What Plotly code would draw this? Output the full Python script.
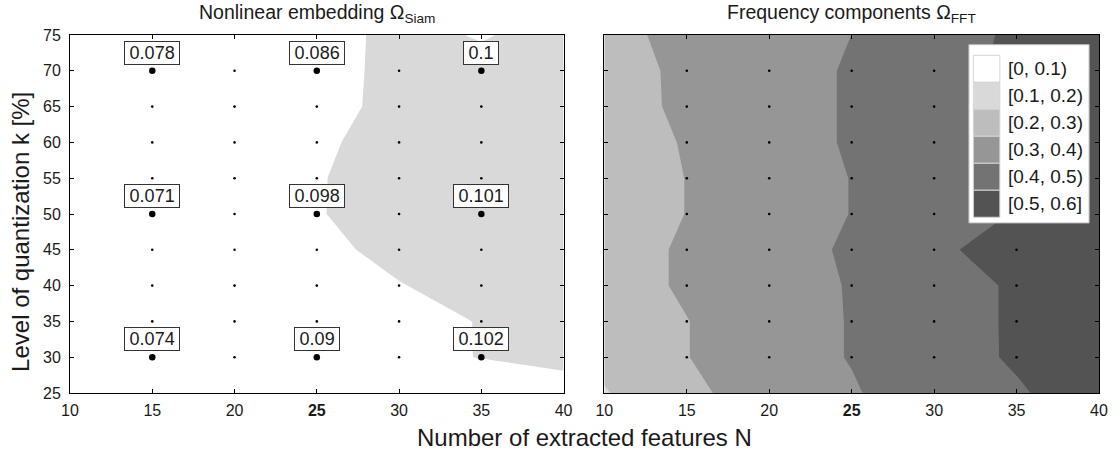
import plotly.graph_objects as go

# ---------------- data ----------------
grid_x = [10, 15, 20, 25, 30, 35, 40]
grid_y = [25, 30, 35, 40, 45, 50, 55, 60, 65, 70, 75]

# estimated grid values, rows follow grid_y, columns follow grid_x
z_siam = [
    [0.068, 0.070, 0.074, 0.080, 0.070, 0.050, 0.087],
    [0.070, 0.074, 0.082, 0.090, 0.082, 0.102, 0.108],
    [0.069, 0.073, 0.080, 0.088, 0.076, 0.103, 0.110],
    [0.068, 0.072, 0.080, 0.092, 0.099, 0.109, 0.112],
    [0.067, 0.071, 0.082, 0.094, 0.1065, 0.108, 0.113],
    [0.066, 0.071, 0.085, 0.098, 0.1147, 0.101, 0.112],
    [0.067, 0.072, 0.086, 0.097, 0.120, 0.104, 0.112],
    [0.068, 0.074, 0.085, 0.094, 0.114, 0.104, 0.111],
    [0.069, 0.076, 0.084, 0.090, 0.1081, 0.103, 0.110],
    [0.070, 0.078, 0.083, 0.086, 0.1101, 0.108, 0.110],
    [0.071, 0.079, 0.084, 0.088, 0.108, 0.098, 0.110],
]
z_fft = [
    [0.194, 0.277, 0.350, 0.390, 0.466, 0.490, 0.549],
    [0.224, 0.298, 0.352, 0.405, 0.4605, 0.5105, 0.560],
    [0.250, 0.298, 0.352, 0.405, 0.461, 0.511, 0.560],
    [0.261, 0.311, 0.356, 0.406, 0.461, 0.511, 0.560],
    [0.261, 0.311, 0.362, 0.412, 0.4845, 0.5345, 0.565],
    [0.252, 0.3015, 0.352, 0.402, 0.455, 0.505, 0.550],
    [0.252, 0.3015, 0.352, 0.402, 0.455, 0.505, 0.550],
    [0.256, 0.306, 0.359, 0.409, 0.460, 0.510, 0.555],
    [0.265, 0.315, 0.359, 0.409, 0.465, 0.515, 0.560],
    [0.266, 0.316, 0.359, 0.409, 0.468, 0.518, 0.560],
    [0.274, 0.324, 0.350, 0.4003, 0.463, 0.513, 0.560],
]

# measurement grid (small dots)
dot_x = [15, 20, 25, 30, 35]
dot_y = [30, 35, 40, 45, 50, 55, 60, 65, 70]

# labelled measurements (left panel)
lab_x = [15, 25, 35]
lab_y = [30, 50, 70]
lab_vals = [
    [0.074, 0.09, 0.102],
    [0.071, 0.098, 0.101],
    [0.078, 0.086, 0.1],
]

level_lows = [0.0, 0.1, 0.2, 0.3, 0.4, 0.5]
level_labels = ["[0, 0.1)", "[0.1, 0.2)", "[0.2, 0.3)", "[0.3, 0.4)", "[0.4, 0.5)", "[0.5, 0.6]"]
level_colors = ["#ffffff", "#d9d9d9", "#bdbdbd", "#969696", "#737373", "#535353"]

x_ticks = [10, 15, 20, 25, 30, 35, 40]
x_ticktext = ["10", "15", "20", "<b>25</b>", "30", "35", "40"]
y_ticks = [25, 30, 35, 40, 45, 50, 55, 60, 65, 70, 75]

FONT = "Liberation Sans, Arial, Helvetica, sans-serif"
INK = "#1a1a1a"
THIN = "\u2009"

fig = go.Figure()

# filled bands: each band shades z >= its lower bound, layered bottom-up
for z, xa, ya in [(z_siam, "x", "y"), (z_fft, "x2", "y2")]:
    for low, col in zip(level_lows, level_colors):
        if low == 0.0:
            continue  # white base = plot background
        fig.add_trace(go.Contour(
            x=grid_x, y=grid_y, z=z,
            contours=dict(type="constraint", operation="<", value=low, showlines=False),
            fillcolor=col,
            line=dict(width=0, smoothing=0, color=col),
            showscale=False, hoverinfo="skip",
            xaxis=xa, yaxis=ya,
        ))

dxs = [x for y in dot_y for x in dot_x]
dys = [y for y in dot_y for x in dot_x]
for xa, ya in [("x", "y"), ("x2", "y2")]:
    fig.add_trace(go.Scatter(
        x=dxs, y=dys, mode="markers",
        marker=dict(size=2.6, color="black"),
        xaxis=xa, yaxis=ya, showlegend=False, hoverinfo="skip",
    ))

lxs = [x for y in lab_y for x in lab_x]
lys = [y for y in lab_y for x in lab_x]
lvs = [v for row in lab_vals for v in row]
fig.add_trace(go.Scatter(
    x=lxs, y=lys, mode="markers",
    marker=dict(size=6.5, color="black"),
    xaxis="x", yaxis="y", showlegend=False, hoverinfo="skip",
))

annotations = []
for x, y, v in zip(lxs, lys, lvs):
    annotations.append(dict(
        x=x, y=y, xref="x", yref="y", text=THIN + f"{v:g}" + THIN, showarrow=False,
        yshift=18, yanchor="middle", xanchor="center",
        font=dict(family=FONT, size=18, color=INK),
        bgcolor="white", bordercolor="#333333", borderwidth=1, borderpad=1,
    ))

# panel titles
annotations.append(dict(x=0.5, y=1.0, xref="x domain", yref="paper", yshift=22,
                        text="Nonlinear embedding Ω<sub>Siam</sub>", showarrow=False,
                        font=dict(family=FONT, size=19.5, color=INK), yanchor="middle"))
annotations.append(dict(x=0.5, y=1.0, xref="x2 domain", yref="paper", yshift=22,
                        text="Frequency components Ω<sub>FFT</sub>", showarrow=False,
                        font=dict(family=FONT, size=19.5, color=INK), yanchor="middle"))
# shared x title
annotations.append(dict(x=0.5, y=0, xref="paper", yref="paper", yshift=-44,
                        text="Number of extracted features N", showarrow=False,
                        font=dict(family=FONT, size=24, color=INK), yanchor="middle"))
# y title
annotations.append(dict(x=0, y=0.45, xref="paper", yref="paper", xshift=-49,
                        text="Level of quantization k [%]", showarrow=False, textangle=-90,
                        font=dict(family=FONT, size=24, color=INK), xanchor="center", yanchor="middle"))

# manual legend in the right panel
shapes = [dict(type="rect", xref="x2 domain", yref="y2 domain",
               x0=0.737, x1=0.980, y0=0.475, y1=0.973,
               fillcolor="white", line=dict(color="#bdbdbd", width=1), layer="above")]
sw_top = 0.9433
sw_h = 0.0754
for i, (lab, col) in enumerate(zip(level_labels, level_colors)):
    y1 = sw_top - i * sw_h
    y0 = y1 - sw_h
    shapes.append(dict(type="rect", xref="x2 domain", yref="y2 domain",
                       x0=0.746, x1=0.7996, y0=y0, y1=y1,
                       fillcolor=col, line=dict(color="#d4d4d4", width=1), layer="above"))
    annotations.append(dict(x=0.811, y=(y0 + y1) / 2, xref="x2 domain", yref="y2 domain",
                            text=lab, showarrow=False, xanchor="left", yanchor="middle",
                            font=dict(family=FONT, size=19, color=INK)))

axis_common = dict(showgrid=False, zeroline=False, showline=True, linecolor="black", linewidth=1,
                   mirror="ticks", ticks="inside", ticklen=4, tickcolor="black",
                   tickfont=dict(family=FONT, size=16, color=INK))

fig.update_layout(
    width=1120, height=453,
    margin=dict(l=70, r=14, t=35, b=60),
    plot_bgcolor="white", paper_bgcolor="white",
    showlegend=False,
    xaxis=dict(domain=[0, 0.4797], range=[10, 40], tickvals=x_ticks, ticktext=x_ticktext,
               anchor="y", ticklabelstandoff=3, **axis_common),
    yaxis=dict(domain=[0, 1], range=[25, 75], tickvals=y_ticks, anchor="x",
               ticklabelstandoff=5, **axis_common),
    xaxis2=dict(domain=[0.5193, 1], range=[10, 40], tickvals=x_ticks, ticktext=x_ticktext,
                anchor="y2", ticklabelstandoff=3, **axis_common),
    yaxis2=dict(domain=[0, 1], range=[25, 75], tickvals=y_ticks, anchor="x2",
                showticklabels=False, **axis_common),
    annotations=annotations,
    shapes=shapes,
)

fig.write_html("out.html")
